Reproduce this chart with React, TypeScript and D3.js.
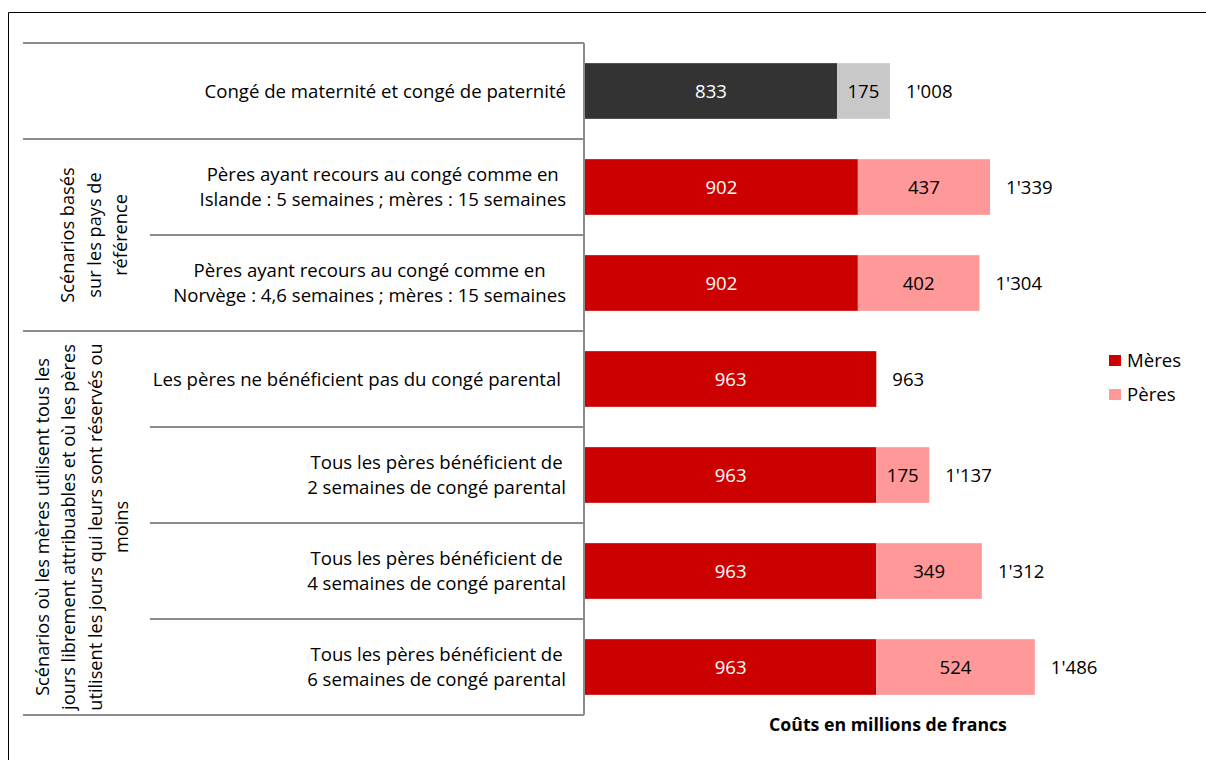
import React, { useEffect, useRef } from "react";
import * as d3 from "d3";

const categories: string[][] = [
  ["Congé de maternité et congé de paternité"],
  ["Pères ayant recours au congé comme en", "Islande : 5 semaines ; mères : 15 semaines"],
  ["Pères ayant recours au congé comme en", "Norvège : 4,6 semaines ; mères : 15 semaines"],
  ["Les pères ne bénéficient pas du congé parental"],
  ["Tous les pères bénéficient de", "2 semaines de congé parental"],
  ["Tous les pères bénéficient de", "4 semaines de congé parental"],
  ["Tous les pères bénéficient de", "6 semaines de congé parental"],
];
const meres = [833, 902, 902, 963, 963, 963, 963];
const peres = [175, 437, 402, 0, 175, 349, 524];
const totals = [1008, 1339, 1304, 963, 1137, 1312, 1486];
const groups = [
  { start: 0, end: 0, lines: [] as string[] },
  { start: 1, end: 2, lines: ["Scénarios basés", "sur les pays de", "référence"] },
  {
    start: 3,
    end: 6,
    lines: [
      "Scénarios où les mères utilisent tous les",
      "jours librement attribuables et où les pères",
      "utilisent les jours qui leurs sont réservés ou",
      "moins",
    ],
  },
];
const seriesNames = ["Mères", "Pères"];
const axisTitle = "Coûts en millions de francs";

// layout (not data)
const groupLabelPos = [
  { cx: 0, dy: 0 },
  { cx: 94.5, dy: 0 },
  { cx: 82, dy: 4 },
];

const W = 1206;
const H = 760;
const FONT = "'Open Sans', sans-serif";
const FS = 18.6;
const GFS = 18.2;

export default function App() {
  const ref = useRef<SVGSVGElement | null>(null);

  useEffect(() => {
    document.body.style.margin = "0";
    const svg = d3.select(ref.current);
    svg.selectAll("*").remove();

    const x0 = 585;
    const x = d3.scaleLinear().domain([0, 1000]).range([x0, x0 + 302.5]);
    const y = d3
      .scaleBand<number>()
      .domain(d3.range(categories.length))
      .range([43, 715])
      .paddingInner(0.42)
      .paddingOuter(0.21);
    const step = y.step();
    const rowTop = (i: number) => 43 + i * step;

    const loc = d3.formatLocale({ decimal: ".", thousands: "'", grouping: [3], currency: ["", ""] });
    const fmt = loc.format(",d");

    // frame
    svg.append("path").attr("d", `M8.5,${H} V12.5 H${W}`).attr("fill", "none").attr("stroke", "#000").attr("stroke-width", 1);

    // table lines
    const gridColor = "#8c8c8c";
    const tableLeft = 23;
    const groupRight = 150;
    const tableRight = 584;
    const fullLines = [0, 1, 3, 7];
    for (let i = 0; i <= categories.length; i++) {
      const yy = rowTop(i);
      svg
        .append("line")
        .attr("x1", fullLines.includes(i) ? tableLeft : groupRight)
        .attr("x2", tableRight)
        .attr("y1", yy)
        .attr("y2", yy)
        .attr("stroke", gridColor)
        .attr("stroke-width", 2);
    }
    svg
      .append("line")
      .attr("x1", tableRight)
      .attr("x2", tableRight)
      .attr("y1", rowTop(0))
      .attr("y2", rowTop(categories.length))
      .attr("stroke", gridColor)
      .attr("stroke-width", 2);

    // category labels
    const lh = 25;
    categories.forEach((lines, i) => {
      const cy = (y(i) as number) + y.bandwidth() / 2;
      const g = svg.append("g");
      const texts = lines.map((l, k) =>
        g
          .append("text")
          .attr("y", cy + (k - (lines.length - 1) / 2) * lh)
          .attr("dy", "0.35em")
          .attr("text-anchor", "middle")
          .attr("font-family", FONT)
          .attr("font-size", FS)
          .attr("fill", "#000")
          .text(l)
      );
      const widths = texts.map((t) => (t.node() as SVGTextElement).getComputedTextLength());
      const maxW = d3.max(widths) || 0;
      const right = lines.length === 1 && i === 3 ? 561 : 566;
      texts.forEach((t) => t.attr("x", right - maxW / 2));
    });

    // group labels
    groups.forEach((gr, gi) => {
      if (!gr.lines.length) return;
      const cy = (rowTop(gr.start) + rowTop(gr.end + 1)) / 2 + groupLabelPos[gi].dy;
      const cx = groupLabelPos[gi].cx;
      const n = gr.lines.length;
      gr.lines.forEach((l, k) => {
        const xx = cx + (k - (n - 1) / 2) * 26.5;
        svg
          .append("text")
          .attr("transform", `translate(${xx},${cy}) rotate(-90)`)
          .attr("dy", "0.35em")
          .attr("text-anchor", "middle")
          .attr("font-family", FONT)
          .attr("font-size", GFS)
          .attr("fill", "#000")
          .text(l);
      });
    });

    // bars
    const colors = (i: number) => (i === 0 ? ["#333333", "#c8c8c8"] : ["#cc0000", "#ff9999"]);
    const textColors = ["#ffffff", "#000000"];
    categories.forEach((_, i) => {
      const yy = y(i) as number;
      const bh = y.bandwidth();
      const segs = [
        [0, meres[i]],
        [meres[i], meres[i] + peres[i]],
      ];
      segs.forEach(([a, b], s) => {
        if (b - a <= 0) return;
        svg
          .append("rect")
          .attr("x", x(a))
          .attr("y", yy)
          .attr("width", x(b) - x(a))
          .attr("height", bh)
          .attr("fill", colors(i)[s]);
        svg
          .append("text")
          .attr("x", (x(a) + x(b)) / 2)
          .attr("y", yy + bh / 2)
          .attr("dy", "0.35em")
          .attr("text-anchor", "middle")
          .attr("font-family", FONT)
          .attr("font-size", FS)
          .attr("fill", textColors[s])
          .text(fmt(s === 0 ? meres[i] : peres[i]));
      });
      svg
        .append("text")
        .attr("x", x(meres[i] + peres[i]) + 16)
        .attr("y", yy + bh / 2)
        .attr("dy", "0.35em")
        .attr("text-anchor", "start")
        .attr("font-family", FONT)
        .attr("font-size", FS)
        .attr("fill", "#000")
        .text(fmt(totals[i]));
    });

    // legend
    const legColors = ["#cc0000", "#ff9999"];
    seriesNames.forEach((nm, k) => {
      const ly = 360 + k * 34;
      svg.append("rect").attr("x", 1109).attr("y", ly - 5).attr("width", 12).attr("height", 11).attr("fill", legColors[k]);
      svg
        .append("text")
        .attr("x", 1127)
        .attr("y", ly)
        .attr("dy", "0.35em")
        .attr("font-family", FONT)
        .attr("font-size", FS)
        .attr("fill", "#000")
        .text(nm);
    });

    // axis title
    svg
      .append("text")
      .attr("x", 888)
      .attr("y", 725)
      .attr("dy", "0.35em")
      .attr("text-anchor", "middle")
      .attr("font-family", FONT)
      .attr("font-size", 17.7)
      .attr("font-weight", "bold")
      .attr("fill", "#000")
      .text(axisTitle);
  }, []);

  return (
    <svg
      ref={ref}
      width={W}
      height={H}
      style={{ position: "absolute", left: 0, top: 0, display: "block", background: "#fff" }}
    />
  );
}
